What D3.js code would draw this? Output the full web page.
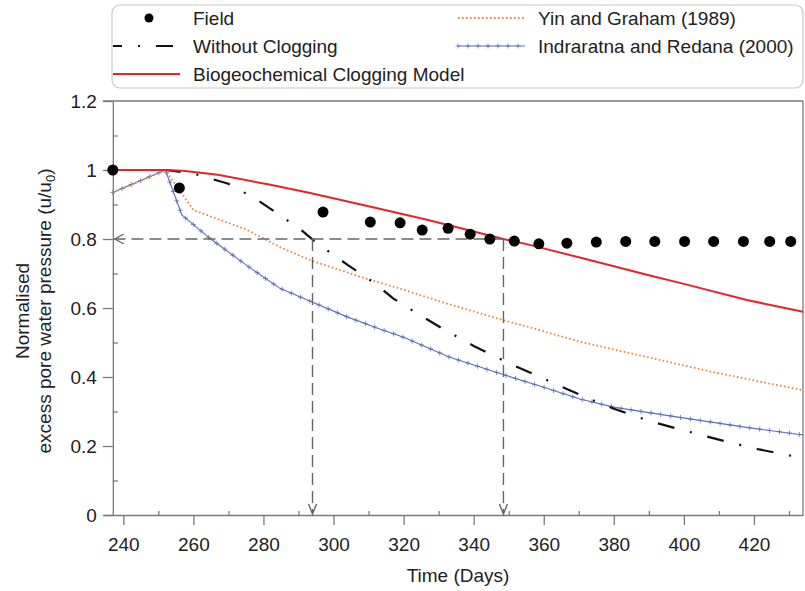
<!DOCTYPE html>
<html>
<meta charset="UTF-8">
<head>
<script src="https://d3js.org/d3.v7.min.js"></script>
<style>
  body { margin: 0; background: white; font-family: "Liberation Sans", Arial, sans-serif; }
</style>
</head>
<body>
<script>
// field measurements (day, u/u0)
let fieldDays = [237, 256, 297, 310.5, 319, 325.3, 332.7, 339, 344.6, 351.6, 358.6, 366.6, 375, 383.4, 391.7, 400.2, 408.5, 417, 424.5, 430.5];
let fieldVals = [1.0, 0.948, 0.878, 0.849, 0.847, 0.826, 0.831, 0.814, 0.800, 0.794, 0.786, 0.788, 0.791, 0.793, 0.793, 0.793, 0.793, 0.793, 0.793, 0.793];

// without clogging
let noclogDays = [237, 252, 260, 270, 278, 286, 291, 295, 304, 312, 317, 322, 331, 340, 350, 360, 370, 380, 390, 400, 406, 412, 421.5, 434];
let noclogVals = [1.0, 1.0, 0.99, 0.96, 0.915, 0.86, 0.824, 0.79, 0.725, 0.67, 0.628, 0.596, 0.541, 0.49, 0.44, 0.395, 0.35, 0.308, 0.273, 0.245, 0.229, 0.213, 0.19, 0.165];

// biogeochemical clogging model
let bioDays = [237, 252, 257, 267, 282, 293, 310, 327, 348.5, 356, 370, 390, 400, 418, 434];
let bioVals = [1.0, 1.0, 0.998, 0.986, 0.957, 0.934, 0.895, 0.855, 0.800, 0.783, 0.747, 0.695, 0.670, 0.623, 0.589];

// Yin and Graham (1989)
let yinDays = [237, 252, 256, 260, 265, 275, 285, 294, 309, 320, 332, 348, 356, 370, 389, 408, 420, 434];
let yinVals = [0.935, 1.0, 0.942, 0.884, 0.865, 0.828, 0.775, 0.736, 0.686, 0.653, 0.614, 0.566, 0.544, 0.503, 0.459, 0.415, 0.39, 0.362];

// Indraratna and Redana (2000)
let indDays = [237, 252, 256.7, 264.7, 275.7, 284.7, 293.7, 303.7, 313, 320, 333, 347.5, 360, 370.3, 380.3, 398.8, 417.9, 434];
let indVals = [0.935, 1.0, 0.87, 0.802, 0.72, 0.657, 0.618, 0.575, 0.54, 0.515, 0.458, 0.41, 0.37, 0.336, 0.312, 0.283, 0.254, 0.232];

// reference lines (u/u0 = 0.8 reached)
let refLevel = 0.8;
let refDays = [294, 348.5];

let xTicks = [240, 260, 280, 300, 320, 340, 360, 380, 400, 420];
let xMinor = [250, 270, 290, 310, 330, 350, 370, 390, 410, 430];
let yTicks = [0, 0.2, 0.4, 0.6, 0.8, 1, 1.2];
let yMinor = [0.1, 0.3, 0.5, 0.7, 0.9, 1.1];

let legendItems = [
  {name: "Field", key: "field", col: 0, row: 0},
  {name: "Without Clogging", key: "noclog", col: 0, row: 1},
  {name: "Biogeochemical Clogging Model", key: "bio", col: 0, row: 2},
  {name: "Yin and Graham (1989)", key: "yin", col: 1, row: 0},
  {name: "Indraratna and Redana (2000)", key: "ind", col: 1, row: 1}
];

let width = 805, height = 591;
let fontSize = 19;
let svg = d3.select("body").append("svg")
  .attr("width", width)
  .attr("height", height)
  .style("font-family", "'Liberation Sans', Arial, sans-serif");

let x = d3.scaleLinear().domain([234.2, 434]).range([103, 803]);
let y = d3.scaleLinear().domain([0, 1.2]).range([515, 101]);
let yAxisDay = 237;

let axisColor = "#7a7a7a";
let textColor = "#222";

function pairs(days, vals) { return days.map((d, i) => [d, vals[i]]); }
let line = d3.line().x(d => x(d[0])).y(d => y(d[1]));

// frame: top and right border
svg.append("line").attr("x1", 103).attr("x2", 803).attr("y1", y(1.2)).attr("y2", y(1.2))
  .attr("stroke", axisColor).attr("stroke-width", 1.3);
svg.append("line").attr("x1", 803).attr("x2", 803).attr("y1", y(1.2)).attr("y2", y(0))
  .attr("stroke", axisColor).attr("stroke-width", 1.3);

// x axis
let gx = svg.append("g").attr("transform", `translate(0,${y(0)})`)
  .call(d3.axisBottom(x).tickValues(xTicks).tickSize(10).tickSizeOuter(0).tickPadding(13));
gx.select(".domain").attr("stroke", axisColor).attr("stroke-width", 1.3);
gx.selectAll(".tick line").attr("stroke", axisColor).attr("stroke-width", 1.3);
gx.selectAll(".tick text").attr("font-size", fontSize).attr("fill", textColor)
  .attr("font-family", "'Liberation Sans', Arial, sans-serif");
svg.append("g").attr("transform", `translate(0,${y(0)})`)
  .call(d3.axisBottom(x).tickValues(xMinor).tickSize(-4).tickSizeOuter(0).tickFormat(""))
  .call(g => g.select(".domain").remove())
  .selectAll(".tick line").attr("stroke", axisColor).attr("stroke-width", 1.3);

// y axis
let gy = svg.append("g").attr("transform", `translate(${x(yAxisDay)},0)`)
  .call(d3.axisLeft(y).tickValues(yTicks).tickSize(10).tickSizeOuter(0).tickPadding(6)
    .tickFormat(d => d3.format("~g")(d)));
gy.select(".domain").attr("stroke", axisColor).attr("stroke-width", 1.3);
gy.selectAll(".tick line").attr("stroke", axisColor).attr("stroke-width", 1.3);
gy.selectAll(".tick text").attr("font-size", fontSize).attr("fill", textColor)
  .attr("font-family", "'Liberation Sans', Arial, sans-serif");
svg.append("g").attr("transform", `translate(${x(yAxisDay)},0)`)
  .call(d3.axisLeft(y).tickValues(yMinor).tickSize(-5).tickSizeOuter(0).tickFormat(""))
  .call(g => g.select(".domain").remove())
  .selectAll(".tick line").attr("stroke", axisColor).attr("stroke-width", 1.3);

// axis titles
svg.append("text").attr("x", 458).attr("y", 582).attr("text-anchor", "middle")
  .attr("font-size", fontSize).attr("fill", textColor).text("Time (Days)");

let yt = svg.append("text").attr("transform", "translate(0,311) rotate(-90)")
  .attr("text-anchor", "middle").attr("font-size", fontSize).attr("fill", textColor);
yt.append("tspan").attr("x", 0).attr("y", 29).text("Normalised");
let l2 = yt.append("tspan").attr("x", 0).attr("y", 51);
l2.append("tspan").text("excess pore water pressure (u/u");
l2.append("tspan").attr("font-size", 13).attr("dy", 4).text("0");
l2.append("tspan").attr("dy", -4).text(")");

// series styles
let styles = {
  noclog: {stroke: "#111", width: 2.2, dash: "17,16,2,16"},
  bio: {stroke: "#e0262c", width: 2, dash: null},
  yin: {stroke: "#e8843c", width: 1.8, dash: "1.6,2.4"},
  ind: {stroke: "#5b6fb3", width: 1.1, dash: null}
};

function drawSeries(data, st) {
  return svg.append("path").datum(data)
    .attr("fill", "none")
    .attr("stroke", st.stroke)
    .attr("stroke-width", st.width)
    .attr("stroke-dasharray", st.dash)
    .attr("d", line);
}

function plusMarkers(pathNode, step, g, color) {
  let len = pathNode.getTotalLength();
  for (let s = 0; s <= len; s += step) {
    let p = pathNode.getPointAtLength(s);
    g.append("path")
      .attr("d", `M${p.x - 2.5},${p.y}H${p.x + 2.5}M${p.x},${p.y - 2.5}V${p.y + 2.5}`)
      .attr("stroke", color).attr("stroke-width", 0.8);
  }
}

let indPath = drawSeries(pairs(indDays, indVals), styles.ind);
plusMarkers(indPath.node(), 10, svg.append("g"), styles.ind.stroke);
drawSeries(pairs(yinDays, yinVals), styles.yin);
drawSeries(pairs(noclogDays, noclogVals), styles.noclog);
drawSeries(pairs(bioDays, bioVals), styles.bio);

// dashed reference arrows
let refG = svg.append("g").attr("stroke", "#666").attr("stroke-width", 1.4).attr("fill", "none");
refG.append("line")
  .attr("x1", x(refDays[1])).attr("x2", x(yAxisDay) + 1)
  .attr("y1", y(refLevel)).attr("y2", y(refLevel))
  .attr("stroke-dasharray", "12,6");
refG.append("path")
  .attr("d", `M${x(yAxisDay) + 11},${y(refLevel) - 5}L${x(yAxisDay) + 2},${y(refLevel)}L${x(yAxisDay) + 11},${y(refLevel) + 5}`);
refDays.forEach(d => {
  refG.append("line")
    .attr("x1", x(d)).attr("x2", x(d))
    .attr("y1", y(refLevel)).attr("y2", y(0) - 2)
    .attr("stroke-dasharray", "12,6");
  refG.append("path")
    .attr("d", `M${x(d) - 4},${y(0) - 11}L${x(d)},${y(0) - 1}L${x(d) + 4},${y(0) - 11}`);
});

// field points
svg.append("g").selectAll("circle")
  .data(pairs(fieldDays, fieldVals))
  .join("circle")
  .attr("cx", d => x(d[0]))
  .attr("cy", d => y(d[1]))
  .attr("r", 5.5)
  .attr("fill", "#000");

// legend
let lg = svg.append("g");
lg.append("rect").attr("x", 112).attr("y", 5).attr("width", 691).attr("height", 83)
  .attr("rx", 8).attr("fill", "white").attr("stroke", "#c8c8c8").attr("stroke-width", 1.2);

let colX = [113, 458];
let rowY = [18, 46, 74];
legendItems.forEach(it => {
  let x0 = colX[it.col], yy = rowY[it.row];
  if (it.key == "field") {
    lg.append("circle").attr("cx", x0 + 36).attr("cy", yy).attr("r", 4.5).attr("fill", "#000");
  } else {
    let st = styles[it.key];
    let seg = lg.append("line").attr("x1", x0).attr("x2", x0 + 67).attr("y1", yy).attr("y2", yy)
      .attr("stroke", st.stroke).attr("stroke-width", st.width)
      .attr("stroke-dasharray", st.dash);
    if (it.key == "noclog") seg.attr("stroke-dashoffset", 8);
    if (it.key == "ind") plusMarkers(seg.node(), 10, lg, st.stroke);
  }
  lg.append("text").attr("x", x0 + 80).attr("y", yy + 7)
    .attr("font-size", fontSize).attr("fill", textColor).text(it.name);
});
</script>
</body>
</html>
